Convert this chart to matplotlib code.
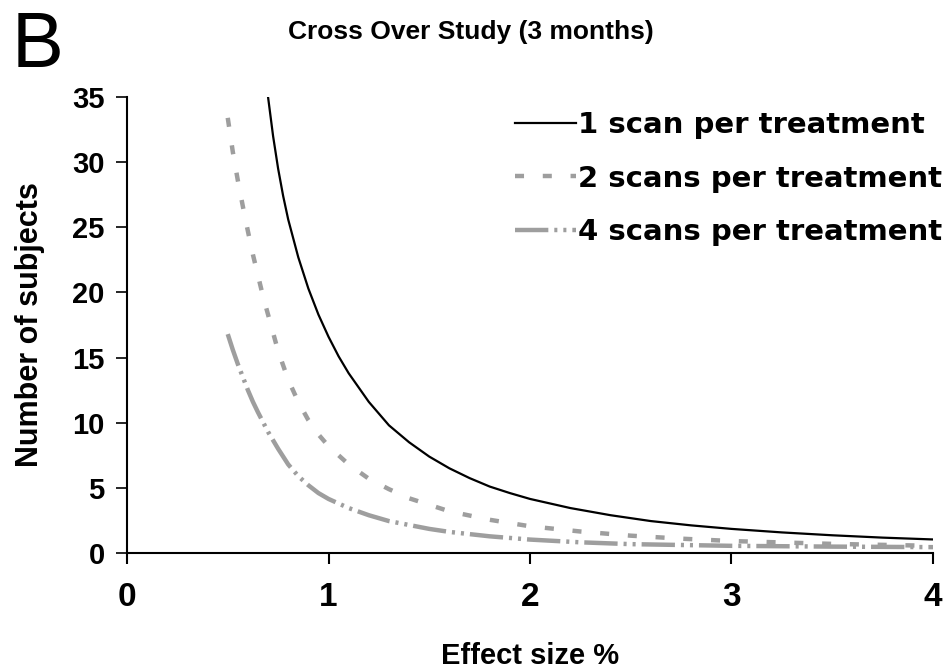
import matplotlib
matplotlib.use('Agg')
import matplotlib.pyplot as plt

plt.rcParams['font.family'] = ['Liberation Sans', 'DejaVu Sans']
plt.rcParams['font.weight'] = 'bold'
plt.rcParams['lines.scale_dashes'] = False

# ===== 数据 =====
x_one = [0.70, 0.725, 0.75, 0.775, 0.80, 0.85, 0.90, 0.95, 1.00, 1.05, 1.10,
         1.20, 1.30, 1.40, 1.50, 1.60, 1.70, 1.80, 1.90, 2.00, 2.20, 2.40,
         2.60, 2.80, 3.00, 3.25, 3.50, 3.75, 4.00]
y_one = [35.0, 32.0, 29.5, 27.4, 25.6, 22.7, 20.3, 18.3, 16.6, 15.1, 13.8,
         11.6, 9.8, 8.5, 7.4, 6.5, 5.75, 5.1, 4.6, 4.15, 3.45, 2.9,
         2.45, 2.12, 1.85, 1.58, 1.36, 1.18, 1.04]

x_two = [0.50, 0.525, 0.55, 0.575, 0.60, 0.625, 0.65, 0.675, 0.70, 0.75,
         0.80, 0.85, 0.90, 0.95, 1.00, 1.10, 1.20, 1.30, 1.40, 1.50, 1.60,
         1.80, 2.00, 2.25, 2.50, 2.75, 3.00, 3.50, 4.00]
y_two = [33.4, 30.8, 28.6, 26.6, 24.7, 22.9, 21.3, 19.7, 18.3, 15.5,
         13.3, 11.6, 10.2, 9.1, 8.2, 6.8, 5.7, 4.9, 4.2, 3.7, 3.2,
         2.55, 2.05, 1.65, 1.33, 1.1, 0.92, 0.7, 0.55]

x_four = [0.50, 0.525, 0.55, 0.575, 0.60, 0.625, 0.65, 0.70, 0.75, 0.80,
          0.85, 0.90, 0.95, 1.00, 1.10, 1.20, 1.30, 1.40, 1.50, 1.60,
          1.80, 2.00, 2.25, 2.50, 3.00, 3.50, 4.00]
y_four = [16.8, 15.6, 14.5, 13.5, 12.5, 11.6, 10.8, 9.3, 8.0, 6.8,
          5.9, 5.2, 4.6, 4.15, 3.45, 2.9, 2.45, 2.15, 1.85, 1.62,
          1.28, 1.03, 0.82, 0.68, 0.55, 0.49, 0.45]

labels = ['1 scan per treatment', '2 scans per treatment', '4 scans per treatment']
x_ticks = [0, 1, 2, 3, 4]
y_ticks = [0, 5, 10, 15, 20, 25, 30, 35]

gray = '#9e9e9e'

# ==================== 画图 ====================
fig = plt.figure(figsize=(9.51, 6.71), dpi=100)
ax = fig.add_axes([127/951, 1-553/671, 806/951, 456/671])

ax.plot(x_one, y_one, color='black', lw=1.6, label=labels[0])
ax.plot(x_two, y_two, color=gray, lw=3.2, linestyle=(0, (6.5, 13.5)),
        label=labels[1])
ax.plot(x_four, y_four, color=gray, lw=3.2,
        linestyle=(0, (24, 4.3, 2.2, 4.3, 2.2, 4.3)), label=labels[2])

ax.set_xlim(0, 4); ax.set_ylim(0, 35)
ax.set_xticks(x_ticks); ax.set_yticks(y_ticks)
for s in ['top', 'right']:
    ax.spines[s].set_visible(False)
for s in ['left', 'bottom']:
    ax.spines[s].set_linewidth(1.5)
ax.tick_params(axis='x', direction='out', length=8, width=1.5, pad=13, labelsize=24)
ax.tick_params(axis='y', direction='out', length=8, width=1.2, pad=8, labelsize=21)

ax.set_xlabel('Effect size %', fontsize=21, fontweight='bold')
ax.xaxis.set_label_coords(0.5, -0.196)
ax.set_ylabel('Number of subjects', fontsize=22, fontweight='bold')
ax.yaxis.set_label_coords(-0.120, 0.5)
ax.yaxis.label.set_verticalalignment('center')

ax.set_title('Cross Over Study (3 months)', fontsize=19, fontweight='bold',
             x=(471-127)/806, y=(553-32)/456, va='center', pad=0)

ax.legend(loc='upper left', bbox_to_anchor=(515/951, 1-111/671),
          bbox_transform=fig.transFigure, frameon=False, borderpad=0,
          borderaxespad=0, handlelength=2.1, handletextpad=0.05,
          labelspacing=0.88,
          prop={'family': 'DejaVu Sans', 'weight': 'bold', 'size': 21})

fig.text(12/951, 1-10/671, 'B', fontweight='normal',
         fontsize=56, va='top', ha='left')

plt.savefig('out.png', dpi=100)
